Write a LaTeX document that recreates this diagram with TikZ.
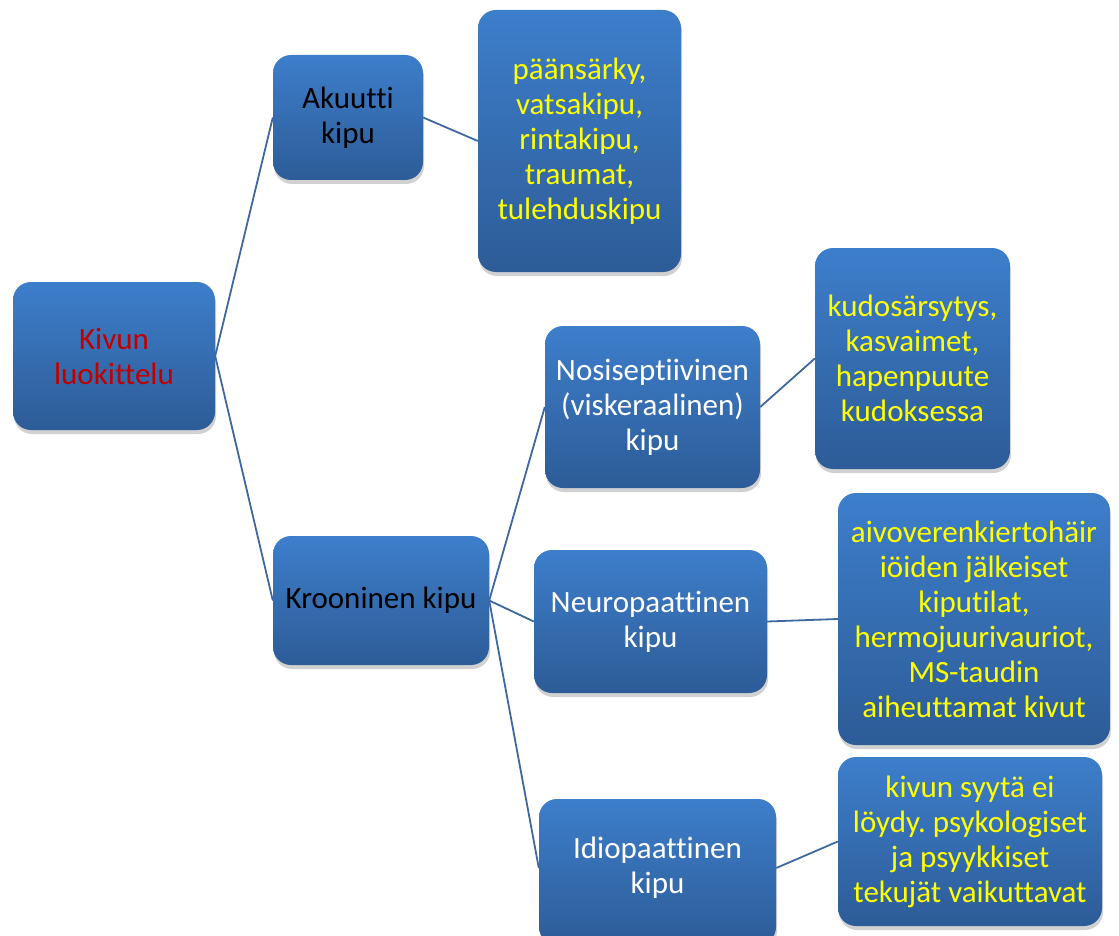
\documentclass[tikz,border=0pt]{standalone}
\usepackage{fontspec}
\setmainfont{Carlito}[Ligatures=NoCommon]
\frenchspacing
\usetikzlibrary{shadows}
\definecolor{boxtop}{HTML}{3D7ECB}
\definecolor{boxbot}{HTML}{2D5C97}
\definecolor{linec}{HTML}{3E689F}
\definecolor{rootred}{HTML}{C00000}
\definecolor{detyel}{HTML}{FFFF00}
\tikzset{
  box/.style={rounded corners=18pt, top color=boxtop, bottom color=boxbot, draw=none,
    inner sep=0pt, align=center, font=\fontsize{31}{35}\selectfont,
    drop shadow={opacity=0.3, shadow xshift=1pt, shadow yshift=-4pt, fill=black!60}},
  conn/.style={draw=linec, line width=1.8pt},
}
\begin{document}
\begin{tikzpicture}[x=1pt,y=-1pt]
\useasboundingbox (0,0) rectangle (1119,936);
\node[box, minimum width=202pt, minimum height=148pt, text=rootred] (root) at (114,356) {Kivun\\luokittelu};
\node[box, minimum width=150pt, minimum height=125pt, text=black] (ak) at (348,117.5) {Akuutti\\kipu};
\node[box, minimum width=203pt, minimum height=262pt, text=detyel] (akd) at (579.5,141) {päänsärky,\\vatsakipu,\\rintakipu,\\traumat,\\tulehduskipu};
\node[box, minimum width=216pt, minimum height=129pt, text=black] (kr) at (381,600.5) {Krooninen kipu};
\node[box, minimum width=215pt, minimum height=162pt, text=white] (nos) at (652.5,407) {Nosiseptiivinen\\(viskeraalinen)\\kipu};
\node[box, minimum width=195pt, minimum height=221pt, text=detyel] (nosd) at (912.5,358.5) {kudosärsytys,\\kasvaimet,\\hapenpuute\\kudoksessa};
\node[box, minimum width=233pt, minimum height=143pt, text=white] (neu) at (650.5,621.5) {Neuropaattinen\\kipu};
\node[box, minimum width=272pt, minimum height=252pt, text=detyel] (neud) at (974,619) {aivoverenkiertohäir\\iöiden jälkeiset\\kiputilat,\\hermojuurivauriot,\\MS-taudin\\aiheuttamat kivut};
\node[box, minimum width=237pt, minimum height=146pt] (idi) at (657.5,872) {};
\node[text=white, font=\fontsize{31}{35}\selectfont, align=center, inner sep=0pt] (idit) at (657.5,868) {Idiopaattinen\\kipu};
\node[box, minimum width=264pt, minimum height=169pt, text=detyel] (idid) at (970,841.5) {kivun syytä ei\\löydy. psykologiset\\ja psyykkiset\\tekujät vaikuttavat};
\draw[conn] (root.east) -- (ak.west);
\draw[conn] (root.east) -- (kr.west);
\draw[conn] (ak.east) -- (akd.west);
\draw[conn] (kr.east) -- (nos.west);
\draw[conn] (kr.east) -- (neu.west);
\draw[conn] (kr.east) -- (idit.west -| idi.west);
\draw[conn] (nos.east) -- (nosd.west);
\draw[conn] (neu.east) -- (neud.west);
\draw[conn] (idit.east -| idi.east) -- (idid.west);
\end{tikzpicture}
\end{document}
